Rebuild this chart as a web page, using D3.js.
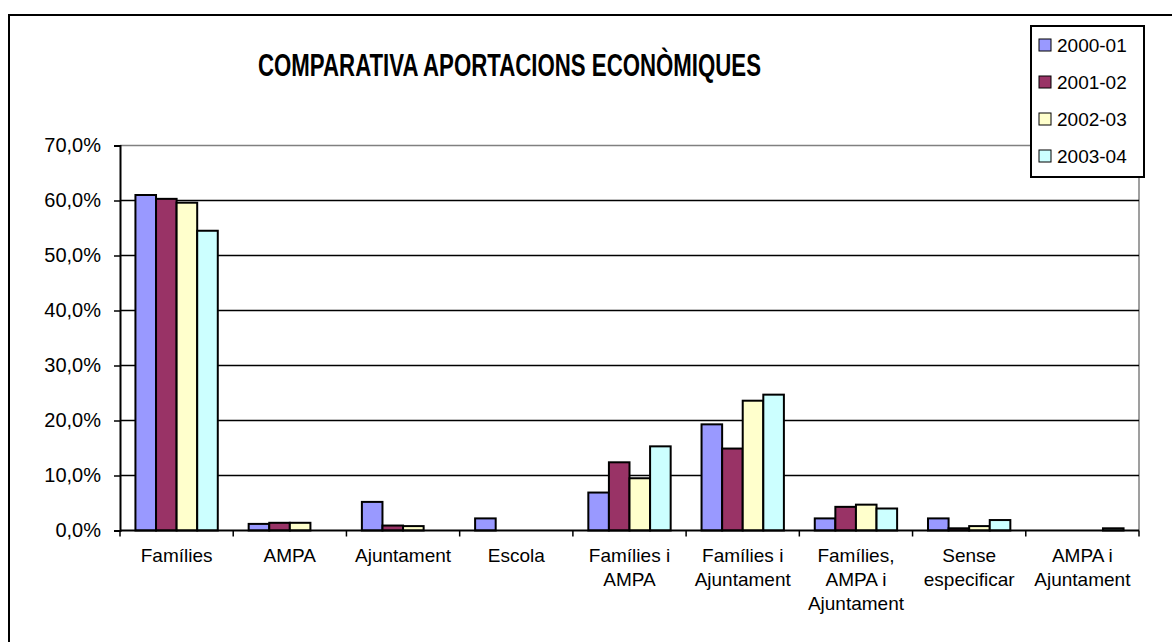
<!DOCTYPE html>
<html>
<head>
<meta charset="utf-8">
<script src="https://cdn.jsdelivr.net/npm/d3@7"></script>
<style>
  body { margin: 0; background: #fff; }
  svg text { font-family: "Liberation Sans", Arial, sans-serif; fill: #000; }
</style>
</head>
<body>
<div id="chart"></div>
<script>
var categories = [
    ["Famílies"],
    ["AMPA"],
    ["Ajuntament"],
    ["Escola"],
    ["Famílies i", "AMPA"],
    ["Famílies i", "Ajuntament"],
    ["Famílies,", "AMPA i", "Ajuntament"],
    ["Sense", "especificar"],
    ["AMPA i", "Ajuntament"]
];
var seriesNames = ["2000-01", "2001-02", "2002-03", "2003-04"];
var seriesColors = ["#9999ff", "#993366", "#ffffcc", "#ccffff"];

// percentages, one array per course
var v2000 = [61.0, 1.2, 5.2, 2.2, 6.9, 19.3, 2.2, 2.2, 0.0];
var v2001 = [60.3, 1.4, 0.9, 0.0, 12.4, 14.9, 4.3, 0.4, 0.0];
var v2002 = [59.6, 1.4, 0.8, 0.0, 9.5, 23.6, 4.7, 0.8, 0.0];
var v2003 = [54.5, 0.0, 0.0, 0.0, 15.3, 24.7, 4.0, 1.9, 0.4];

var yTicks = [0, 10, 20, 30, 40, 50, 60, 70];
var title = "COMPARATIVA APORTACIONS ECONÒMIQUES";

class BarChart {

    constructor(DOMElement, width, height) {
        this.DOMElement = DOMElement;
        this.width = width;
        this.height = height;
        this.plot = {left: 120, right: 1139, top: 145.5, bottom: 530.5};
    }

    setData(cats, series) {
        this.cats = cats;
        this.series = series;
    }

    draw() {
        var p = this.plot;
        var svg = d3.select(this.DOMElement)
            .append("svg")
            .attr("width", this.width)
            .attr("height", this.height);

        // chart area frame (runs off the right and bottom edges)
        svg.append("rect")
            .attr("x", 9).attr("y", 15)
            .attr("width", 1300).attr("height", 800)
            .attr("fill", "#fff")
            .attr("stroke", "#000")
            .attr("stroke-width", 2);

        svg.append("text")
            .attr("x", 258).attr("y", 76)
            .attr("textLength", 503)
            .attr("lengthAdjust", "spacingAndGlyphs")
            .style("font-size", "32px")
            .style("font-weight", "bold")
            .text(title);

        var idx = this.cats.map((d, i) => i);
        var x0 = d3.scaleBand()
            .domain(idx)
            .range([p.left, p.right])
            .paddingInner(1.5 / 5.5)
            .paddingOuter(0.75 / 5.5);
        var x1 = d3.scaleBand()
            .domain(this.series.map(s => s.name))
            .range([0, x0.bandwidth()]);
        var y = d3.scaleLinear()
            .domain([0, 70])
            .range([p.bottom, p.top]);

        // plot area border (top and right in grey)
        svg.append("path")
            .attr("d", "M" + p.left + "," + p.top + "H" + p.right + "V" + p.bottom)
            .attr("fill", "none")
            .attr("stroke", "#808080")
            .attr("stroke-width", 1.5);

        // gridlines
        svg.append("g")
            .selectAll("line")
            .data(yTicks.filter(t => t > 0 && t < 70))
            .enter().append("line")
            .attr("x1", p.left).attr("x2", p.right)
            .attr("y1", d => y(d)).attr("y2", d => y(d))
            .attr("stroke", "#000")
            .attr("stroke-width", 1.5);

        // y axis
        var gy = svg.append("g")
            .attr("transform", "translate(" + p.left + ",0)")
            .call(d3.axisLeft(y)
                .tickValues(yTicks)
                .tickSize(6)
                .tickPadding(13)
                .tickFormat(d => d.toFixed(1).replace(".", ",") + "%"));
        gy.select(".domain").attr("stroke", "#000").attr("stroke-width", 2);
        gy.selectAll(".tick line").attr("stroke", "#000").attr("stroke-width", 1.5);
        gy.selectAll(".tick text")
            .style("font-size", "20px")
            .style("font-family", "'Liberation Sans', Arial, sans-serif");

        // bars
        var groups = svg.append("g")
            .selectAll("g")
            .data(idx)
            .enter().append("g")
            .attr("transform", i => "translate(" + x0(i) + ",0)");
        var series = this.series;
        groups.selectAll("rect")
            .data(i => series.map(s => ({name: s.name, color: s.color, value: s.values[i]})))
            .enter().append("rect")
            .attr("x", d => x1(d.name))
            .attr("y", d => y(d.value))
            .attr("width", x1.bandwidth())
            .attr("height", d => y(0) - y(d.value))
            .attr("fill", d => d.color)
            .attr("stroke", "#000")
            .attr("stroke-width", 2);

        // x axis line with category boundary ticks
        svg.append("line")
            .attr("x1", p.left).attr("x2", p.right)
            .attr("y1", p.bottom).attr("y2", p.bottom)
            .attr("stroke", "#000")
            .attr("stroke-width", 2);
        var step = x0.step();
        svg.append("g")
            .selectAll("line")
            .data(d3.range(this.cats.length + 1))
            .enter().append("line")
            .attr("x1", i => p.left + i * step).attr("x2", i => p.left + i * step)
            .attr("y1", p.bottom).attr("y2", p.bottom + 6)
            .attr("stroke", "#000")
            .attr("stroke-width", 1.5);

        // category labels
        var labels = svg.append("g")
            .selectAll("text")
            .data(this.cats)
            .enter().append("text")
            .attr("text-anchor", "middle")
            .attr("x", (d, i) => x0(i) + x0.bandwidth() / 2)
            .attr("y", 562)
            .style("font-size", "19px");
        labels.selectAll("tspan")
            .data(d => d)
            .enter().append("tspan")
            .attr("x", function() { return d3.select(this.parentNode).attr("x"); })
            .attr("dy", (d, i) => i === 0 ? 0 : 24)
            .text(d => d);

        // legend
        var lg = svg.append("g");
        lg.append("rect")
            .attr("x", 1031).attr("y", 26)
            .attr("width", 113).attr("height", 151)
            .attr("fill", "#fff")
            .attr("stroke", "#000")
            .attr("stroke-width", 2);
        var items = lg.selectAll("g")
            .data(this.series)
            .enter().append("g")
            .attr("transform", (d, i) => "translate(1039," + (45 + i * 37) + ")");
        items.append("rect")
            .attr("x", 0).attr("y", -6)
            .attr("width", 12).attr("height", 12)
            .attr("fill", d => d.color)
            .attr("stroke", "#000")
            .attr("stroke-width", 1);
        items.append("text")
            .attr("x", 18).attr("y", 7)
            .style("font-size", "19px")
            .text(d => d.name);
    }
}

var allValues = [v2000, v2001, v2002, v2003];
var chart = new BarChart("#chart", 1172, 642);
chart.setData(categories, seriesNames.map((n, i) => ({name: n, color: seriesColors[i], values: allValues[i]})));
chart.draw();
</script>
</body>
</html>
